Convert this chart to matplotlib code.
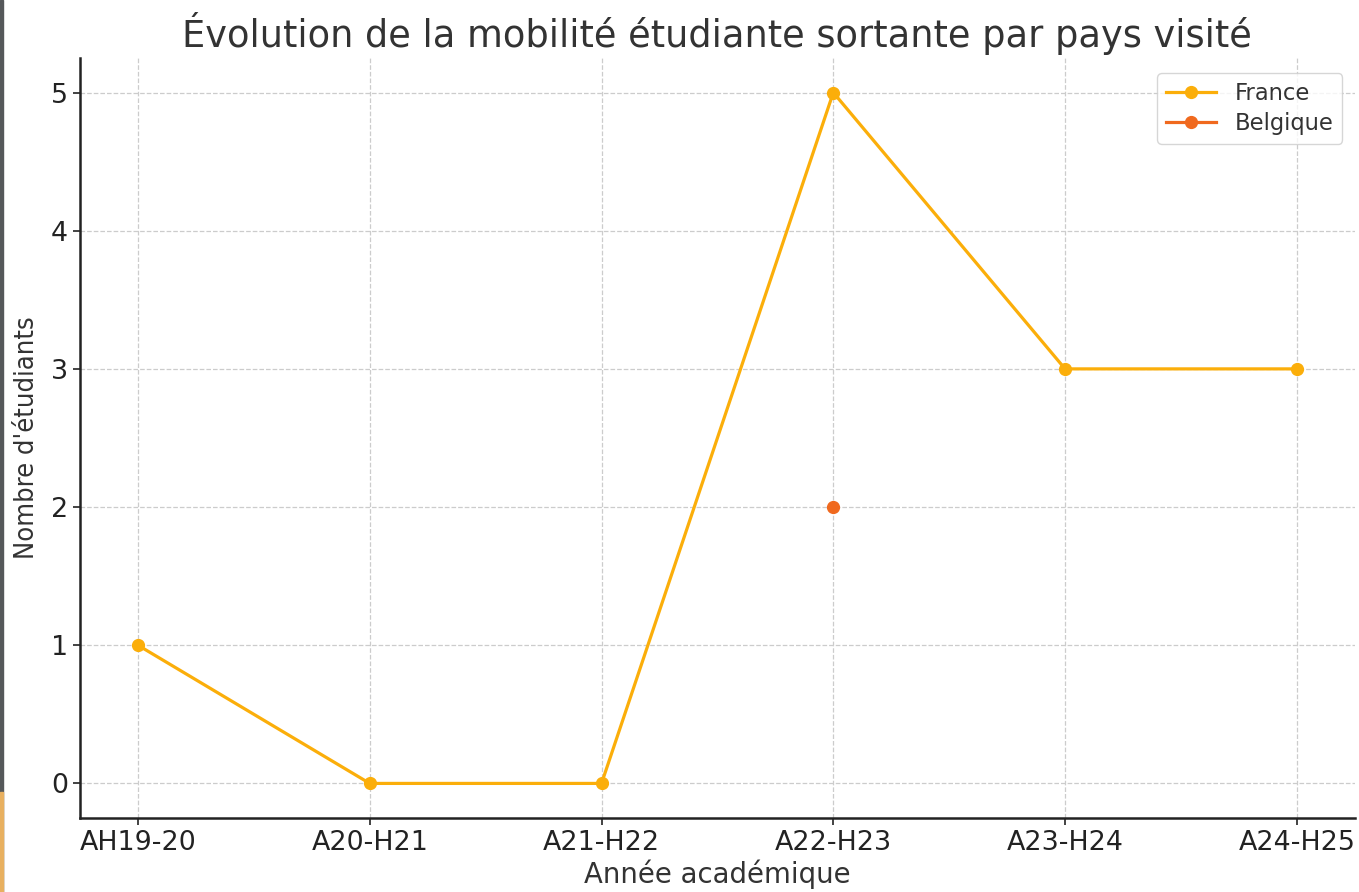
import matplotlib
matplotlib.use("Agg")
import matplotlib.pyplot as plt
import numpy as np
from matplotlib.patches import Rectangle

years = ["AH19-20", "A20-H21", "A21-H22", "A22-H23", "A23-H24", "A24-H25"]
france = [1, 0, 0, 5, 3, 3]
belgique = [np.nan, np.nan, np.nan, 2, np.nan, np.nan]

plt.rcParams['font.family'] = ['DejaVu Sans']
fig = plt.figure(figsize=(13.59, 8.92), dpi=100)
ax = fig.add_axes([0.0589, 0.083, 0.938, 0.852])

x = np.arange(len(years))
ax.plot(x, france, color="#FBAE0A", lw=2.3, marker="o", ms=8.5, label="France")
ax.plot(x, belgique, color="#F0691E", lw=2.3, marker="o", ms=8.5, label="Belgique")

ax.set_xticks(x)
ax.set_xticklabels(years)
ax.tick_params(axis="both", labelsize=19.4, colors="#222222", length=5, width=1.2)
ax.grid(True, linestyle="--", color="#cccccc", linewidth=0.9)
ax.set_axisbelow(True)
for s in ["top", "right"]:
    ax.spines[s].set_visible(False)
for s in ["left", "bottom"]:
    ax.spines[s].set_linewidth(1.8)
    ax.spines[s].set_color("#222222")

ax.set_title("Évolution de la mobilité étudiante sortante par pays visité",
             fontsize=26.5, color="#333333", pad=8)
ax.set_xlabel("Année académique", fontsize=19.8, color="#333333", labelpad=3)
ax.set_ylabel("Nombre d'étudiants", fontsize=19.5, color="#333333", labelpad=8,
              fontstretch="condensed")

leg = ax.legend(loc="upper right", fontsize=16.3, frameon=True, borderpad=0.4,
                labelspacing=0.3, handlelength=2.2, handletextpad=0.8,
                borderaxespad=0.5, bbox_to_anchor=(0.999, 0.995))
leg.get_frame().set_edgecolor("#cccccc")
for t in leg.get_texts():
    t.set_color("#333333")

fig.add_artist(Rectangle((0, 0), 3/1359, 1, transform=fig.transFigure,
                         color="#55585a", zorder=10))
fig.add_artist(Rectangle((0, 0), 3/1359, 100/892, transform=fig.transFigure,
                         color="#e8b060", zorder=11))

fig.savefig("out.png", dpi=100)
